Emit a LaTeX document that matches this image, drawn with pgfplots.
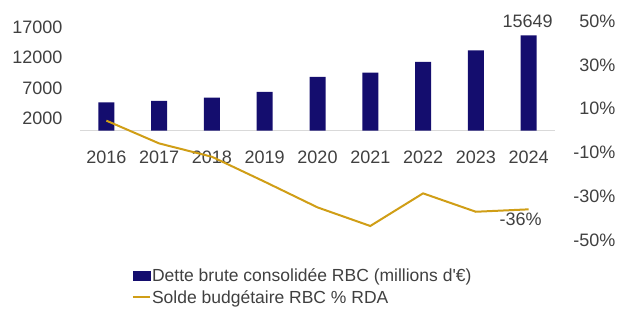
\documentclass[border=0pt]{standalone}
\usepackage{pgfplots}
\pgfplotsset{compat=1.18}
\usepackage{fontspec}
\setmainfont{Liberation Sans}[Ligatures=TeXOff]
\definecolor{navy}{HTML}{140D6E}
\definecolor{gold}{HTML}{D09E16}
\definecolor{txt}{HTML}{404040}
\definecolor{axgray}{HTML}{D9D9D9}
\begin{document}
\begin{tikzpicture}[font=\fontsize{18}{21}\selectfont, text=txt]
\useasboundingbox (-80pt,-74pt) rectangle (540pt,240pt);
\pgfplotsset{
  base/.style={scale only axis, width=475pt, height=219pt, xmin=-0.5, xmax=8.5,
    major tick length=0pt, tick style={draw=none}, clip=false,
    scaled y ticks=false, scaled x ticks=false,
    every tick label/.append style={font=\fontsize{18}{21}\selectfont, text=txt}},
}
\begin{axis}[base, ymin=-18000, ymax=18000,
  axis x line=middle, axis y line=left,
  x axis line style={draw=axgray, line width=1pt, -},
  y axis line style={draw=none},
  xtick={0,1,2,3,4,5,6,7,8},
  xticklabels={2016,2017,2018,2019,2020,2021,2022,2023,2024},
  xticklabel style={yshift=-17pt},
  ytick={2000,7000,12000,17000}, yticklabels={2000,7000,12000,17000},
  yticklabel style={xshift=-14pt},
  legend style={at={(0.109,-0.126)}, anchor=north west, draw=none, fill=none,
    font=\fontsize{17.5}{21}\selectfont, text=txt, inner sep=0pt,
    nodes={inner sep=1pt}, row sep=5pt},
  legend cell align=left,
]
\addplot[ybar, bar width=16pt, fill=navy, draw=none,
  legend image code/.code={\fill[navy] (0pt,-5pt) rectangle (18pt,5pt);}]
  coordinates {(0,4610) (1,4890) (2,5420) (3,6350) (4,8800) (5,9500) (6,11290) (7,13190) (8,15649)};
\addlegendentry{Dette brute consolidée RBC (millions d'€)}
\addlegendimage{draw=gold, line width=2pt, line legend}
\addlegendentry{Solde budgétaire RBC \% RDA}
\node[anchor=south, yshift=4pt, xshift=-1pt] at (axis cs:8,15649) {15649};
\end{axis}
\begin{axis}[base, ymin=-50, ymax=50,
  axis y line*=right, axis x line=none,
  y axis line style={draw=none},
  ytick={-50,-30,-10,10,30,50},
  yticklabels={-50\%,-30\%,-10\%,10\%,30\%,50\%},
  yticklabel style={anchor=east, xshift=64pt},
]
\addplot[draw=gold, line width=2pt, mark=none]
  coordinates {(0,4.5) (1,-5.9) (2,-12.0) (3,-23.4) (4,-35.1) (5,-43.6) (6,-28.7) (7,-37.1) (8,-36)};
\node[anchor=north, yshift=-0.5pt, xshift=-8pt] at (axis cs:8,-36) {-36\%};
\end{axis}
\end{tikzpicture}
\end{document}
